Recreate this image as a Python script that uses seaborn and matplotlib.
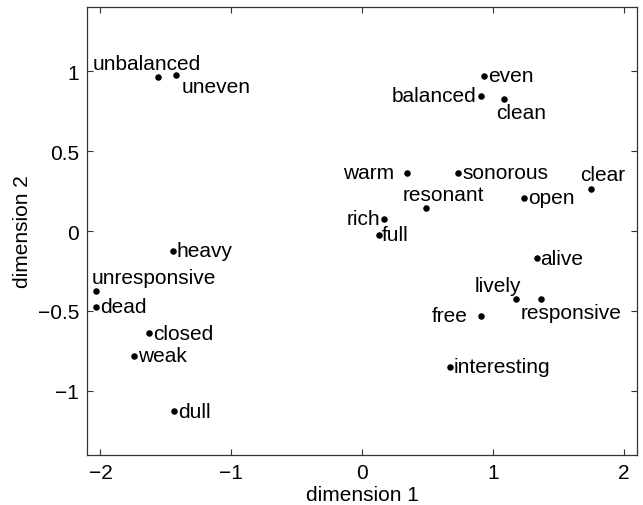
import matplotlib
matplotlib.use("Agg")
import matplotlib.pyplot as plt
import seaborn as sns
import pandas as pd

words = ["unbalanced", "uneven", "heavy", "unresponsive", "dead", "closed", "weak", "dull",
         "even", "balanced", "clean", "warm", "sonorous", "clear", "resonant", "open",
         "rich", "full", "alive", "lively", "responsive", "free", "interesting"]
dim1 = [-1.56, -1.42, -1.445, -2.03, -2.03, -1.63, -1.74, -1.44,
        0.934, 0.906, 1.084, 0.346, 0.736, 1.753, 0.491, 1.239,
        0.166, 0.130, 1.334, 1.178, 1.367, 0.911, 0.672]
dim2 = [0.966, 0.975, -0.125, -0.377, -0.475, -0.640, -0.781, -1.129,
        0.971, 0.848, 0.823, 0.366, 0.366, 0.260, 0.144, 0.208,
        0.077, -0.023, -0.169, -0.427, -0.423, -0.531, -0.848]

# label placement: (dx px, dy px, ha, va)
label_pos = {
    "unbalanced": (-11, 4, "center", "bottom"),
    "uneven": (5, -2, "left", "top"),
    "heavy": (4, 0, "left", "center"),
    "unresponsive": (-5, 4, "left", "bottom"),
    "dead": (4, 0, "left", "center"),
    "closed": (4, 0, "left", "center"),
    "weak": (4, 0, "left", "center"),
    "dull": (4, 0, "left", "center"),
    "even": (4, 0, "left", "center"),
    "balanced": (-4, 0, "right", "center"),
    "clean": (-8, -4, "left", "top"),
    "warm": (-13, 0, "right", "center"),
    "sonorous": (4, 0, "left", "center"),
    "clear": (11, 5, "center", "bottom"),
    "resonant": (17, 4, "center", "bottom"),
    "open": (4, 0, "left", "center"),
    "rich": (-3, 0, "right", "center"),
    "full": (3, 0, "left", "center"),
    "alive": (4, 0, "left", "center"),
    "lively": (-18, 4, "center", "bottom"),
    "responsive": (-20, -4, "left", "top"),
    "free": (-14, 0, "right", "center"),
    "interesting": (4, 0, "left", "center"),
}

df = pd.DataFrame({"word": words, "dim1": dim1, "dim2": dim2})

sns.set_style("ticks")
plt.rcParams["font.family"] = ["Liberation Sans", "DejaVu Sans"]
plt.rcParams["font.size"] = 15

fig = plt.figure(figsize=(6.43, 5.06), dpi=100)
ax = fig.add_axes([0.1358, 0.0994, 0.8544, 0.8842])
sns.scatterplot(data=df, x="dim1", y="dim2", color="black", s=22, edgecolor="black",
                linewidth=0, ax=ax, zorder=3)

for w, x, y in zip(words, dim1, dim2):
    dx, dy, ha, va = label_pos[w]
    ax.annotate(w, (x, y), xytext=(dx * 0.72, dy * 0.72), textcoords="offset points",
                ha=ha, va=va, fontsize=15, color="black")

ax.set_xlim(-2.1, 2.1)
ax.set_ylim(-1.4, 1.4)
ax.set_xticks([-2, -1, 0, 1, 2])
ax.set_yticks([-1, -0.5, 0, 0.5, 1])
ax.set_xticklabels(["\u22122", "\u22121", "0", "1", "2"])
ax.set_yticklabels(["\u22121", "\u22120.5", "0", "0.5", "1"])
ax.tick_params(direction="in", length=4.3, width=0.8, top=True, right=True,
               labelsize=15, colors="#333333", labelcolor="black", pad=6)
for sp in ax.spines.values():
    sp.set_visible(True)
    sp.set_color("#333333")
    sp.set_linewidth(0.9)
ax.set_xlabel("dimension 1", fontsize=15, labelpad=2, color="black")
ax.set_ylabel("dimension 2", fontsize=15, labelpad=4, color="black")

fig.savefig("out.png", dpi=100)
